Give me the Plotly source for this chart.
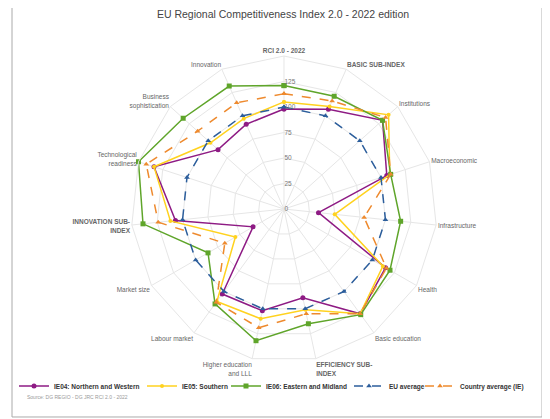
import plotly.graph_objects as go

categories = [
    "RCI 2.0 - 2022", "BASIC SUB-INDEX", "Institutions", "Macroeconomic",
    "Infrastructure", "Health", "Basic education", "EFFICIENCY SUB-INDEX",
    "Higher education and LLL", "Labour market", "Market size",
    "INNOVATION SUB-INDEX", "Technological readiness",
    "Business sophistication", "Innovation",
]
tick_labels = [
    "<b>RCI 2.0 - 2022</b>", "<b>BASIC SUB-INDEX</b>", "Institutions", "Macroeconomic",
    "Infrastructure", "Health", "Basic education", "<b>EFFICIENCY SUB-<br>INDEX</b>",
    "Higher education<br>and LLL", "Labour market", "Market size",
    "<b>INNOVATION SUB-<br>INDEX</b>", "Technological<br>readiness",
    "Business<br>sophistication", "Innovation",
]

ie04_northern_western = [98, 107, 130, 106, 34, 115, 127, 89, 102, 103, 35, 107, 134, 87, 91]
ie05_southern = [105, 110, 138, 109, 50, 112, 127, 101, 110, 112, 55, 112, 134, 97, 97]
ie06_eastern_midland = [121, 121, 130, 110, 115, 120, 128, 115, 132, 115, 86, 139, 150, 133, 132]
eu_average = [100] * 15
country_average_ie = [113, 116, 134, 110, 79, 116, 127, 105, 119, 113, 67, 124, 142, 114, 114]

radial_ticks = [0, 25, 50, 75, 100, 125, 150]
radial_ticktext = ["0", "25", "50", "75", "100", "125", ""]

series = [
    ("IE04: Northern and Western", ie04_northern_western, "#8E1B84", "solid", "circle", 5),
    ("IE05: Southern", ie05_southern, "#FFD21F", "solid", "circle", 4),
    ("IE06: Eastern and Midland", ie06_eastern_midland, "#5FA52A", "solid", "square", 5),
    ("EU average", eu_average, "#2C5E9C", "dash", "triangle-up", 5),
    ("Country average (IE)", country_average_ie, "#EE8A2E", "dash", "triangle-up", 5),
]
# left edge (figure px) of each legend entry box
legend_left_px = [6, 134, 218, 341, 412]

fig = go.Figure()
legend_layouts = {}
for i, (name, vals, color, dash, sym, size) in enumerate(series):
    lname = "legend" if i == 0 else f"legend{i + 1}"
    fig.add_trace(go.Scatterpolar(
        r=vals + vals[:1],
        theta=categories + categories[:1],
        name=name,
        mode="lines+markers",
        line=dict(color=color, width=1.5, dash=dash),
        marker=dict(color=color, symbol=sym, size=size),
        legend=lname,
        showlegend=True,
    ))
    legend_layouts[lname] = dict(
        orientation="h", x=legend_left_px[i] / 550, xanchor="left",
        y=0.0979, yanchor="middle", bgcolor="rgba(0,0,0,0)",
        font=dict(size=6.5, color="#333", weight="bold"),
        itemwidth=30, visible=True,
    )

fig.update_layout(
    width=550, height=419,
    margin=dict(l=0, r=0, t=0, b=0),
    showlegend=True,
    paper_bgcolor="white",
    plot_bgcolor="white",
    font=dict(family="Liberation Sans, Arial, sans-serif", size=7, color="#666"),
    title=dict(
        text="EU Regional Competitiveness Index 2.0 - 2022 edition",
        x=0.5, xanchor="center", y=0.984, yanchor="middle",
        font=dict(size=10.5, color="#444"),
    ),
    polar=dict(
        domain=dict(x=[0.2236, 0.78], y=[0.1551, 0.8854]),
        bgcolor="white",
        gridshape="linear",
        angularaxis=dict(
            direction="clockwise", rotation=90,
            tickmode="array", tickvals=categories, ticktext=tick_labels,
            tickfont=dict(size=6.5, color="#666"),
            gridcolor="#e6e6e6", linecolor="#e6e6e6", showline=True,
            ticks="",
        ),
        radialaxis=dict(
            range=[0, 150], tickmode="array", tickvals=radial_ticks,
            ticktext=radial_ticktext, angle=90, tickangle=90,
            tickfont=dict(size=6.5, color="#777"),
            gridcolor="#e6e6e6", showline=False, ticks="",
        ),
    ),
    shapes=[dict(type="rect", xref="paper", yref="paper", x0=0.0073, x1=0.971,
                 y0=0.0239, y1=1.05, line=dict(color="#aaaaaa", width=1))],
    annotations=[dict(
        text="Source: DG REGIO - DG JRC RCI 2.0 - 2022", xref="paper", yref="paper",
        x=0.031, y=0.0716, xanchor="left", yanchor="middle", showarrow=False,
        font=dict(size=5, color="#999"),
    )],
    **legend_layouts,
)

fig.write_html("out.html")
